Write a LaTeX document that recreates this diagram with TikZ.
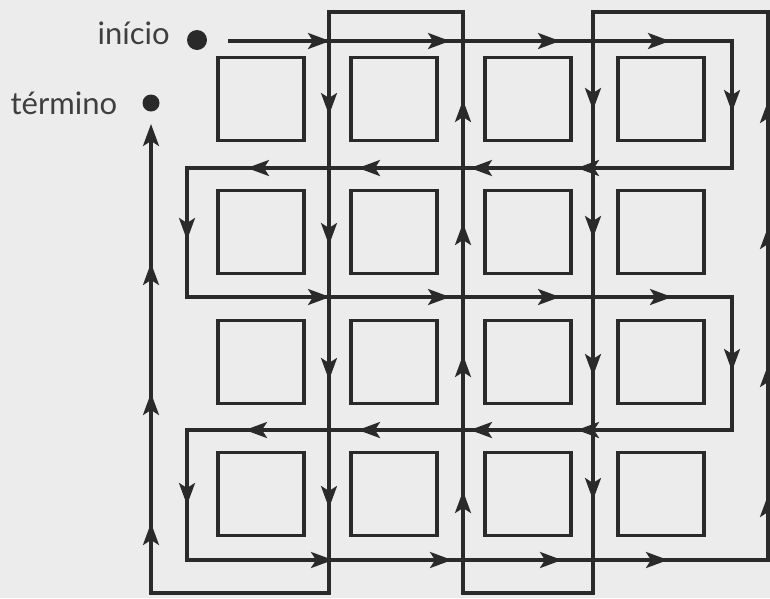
\documentclass[tikz,border=0pt]{standalone}
\usepackage{fontspec}
\setmainfont{Lato}
\usetikzlibrary{arrows.meta,positioning}
\definecolor{gdink}{HTML}{2A2A2A}
\definecolor{gdpaper}{HTML}{ECECEC}
\definecolor{gdtext}{HTML}{3F3F3F}

\begin{document}
\begin{tikzpicture}[x=1pt, y=-1pt, font=\fontsize{31}{36}\selectfont,
  route/.style={gdink, line width=3.1pt},
  tip/.style={route, -{Stealth[length=22pt, width=16pt, inset=5pt]}},
  block/.style={draw=gdink, line width=3.8pt, minimum width=86pt, minimum height=83pt, inner sep=0pt},
  spot/.style={circle, fill=gdink, inner sep=0pt}]
  \fill[gdpaper] (0,0) rectangle (770,598);
  \useasboundingbox (0,0) rectangle (770,598);
  % the sixteen blocks
  \foreach \x [count=\i] in {261,394,528,661}
    \foreach \y [count=\j] in {99,232,362,494}
      \node[block] (b\i\j) at (\x,\y) {};
  % start and end
  \node[spot, minimum size=20pt] (inicio) at (197,40) {};
  \node[spot, minimum size=17pt] (termino) at (151,103) {};
  \node[gdtext, left=17pt of inicio, yshift=7pt, inner sep=0pt] (lblinicio) {início};
  \node[gdtext, left=25pt of termino, inner sep=0pt] (lbltermino) {término};
  \coordinate (start) at (228,41);
  \coordinate (finish) at (151,124);
  % the route
  \draw[route, -{Stealth[length=22pt, width=16pt, inset=5pt]}] (start) -- (732,41) -- (732,168) -- (187,168) -- (187,297) -- (732,297)
    -- (732,430) -- (187,430) -- (187,560) -- (768,560) -- (768,12) -- (593,12) -- (593,593)
    -- (463,593) -- (463,12) -- (329,12) -- (329,593) -- (151,593) -- (finish);
  % arrowheads along the way
  \foreach \x/\y in {330/41, 450/41, 560/41, 670/41, 330/297, 450/297, 560/297, 672/297,
                     333/560, 452/560, 562/560, 668/560}
    \draw[tip] (\x-2,\y) -- (\x,\y);
  \foreach \x/\y in {247/168, 358/168, 470/168, 577/168, 245/430, 358/430, 470/430, 577/430}
    \draw[tip] (\x+2,\y) -- (\x,\y);
  \foreach \x/\y in {329/115, 329/245, 329/380, 329/508, 593/110, 593/238, 593/376, 593/500,
                     732/112, 732/371, 187/240, 187/505}
    \draw[tip] (\x,\y-2) -- (\x,\y);
  \foreach \x/\y in {463/100, 463/223, 463/355, 463/491, 768/101, 768/227, 768/365, 768/495,
                     151/263, 151/393, 151/523}
    \draw[tip] (\x,\y+2) -- (\x,\y);
\end{tikzpicture}
\end{document}
